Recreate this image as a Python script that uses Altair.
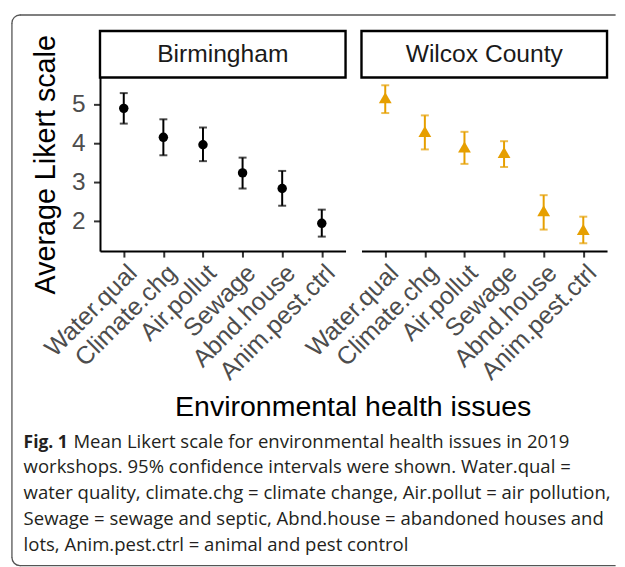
import altair as alt
import pandas as pd
import math

cats = ["Water.qual", "Climate.chg", "Air.pollut", "Sewage", "Abnd.house", "Anim.pest.ctrl"]
bham_mean = [4.89, 4.15, 3.96, 3.24, 2.84, 1.95]
bham_lo = [4.50, 3.69, 3.54, 2.84, 2.40, 1.61]
bham_hi = [5.28, 4.61, 4.40, 3.63, 3.29, 2.30]
wil_mean = [5.16, 4.30, 3.90, 3.76, 2.27, 1.79]
wil_lo = [4.77, 3.84, 3.47, 3.39, 1.79, 1.44]
wil_hi = [5.48, 4.71, 4.29, 4.05, 2.67, 2.12]
panels = ["Birmingham", "Wilcox County"]
y_ticks = [2, 3, 4, 5]
x_title = "Environmental health issues"
y_title = "Average Likert scale"
cap_bold = "Fig. 1"
cap_first = "Mean Likert scale for environmental health issues in 2019"
cap_rest = [
    "workshops. 95% confidence intervals were shown. Water.qual =",
    "water quality, climate.chg = climate change, Air.pollut = air pollution,",
    "Sewage = sewage and septic, Abnd.house = abandoned houses and",
    "lots, Anim.pest.ctrl = animal and pest control",
]

W = 246.5
H = 174.3
OX, OY = 98.4, 74.0  # page position of panel 1 origin
FONT = "Liberation Sans"
CAPFONT = "Open Sans"

xscale = alt.Scale(type="point", padding=0.6, domain=cats)
yscale = alt.Scale(domain=[1.24, 5.68], nice=False, zero=False)

x_axis = alt.Axis(title=None, labelAngle=-45, labelAlign="right", labelBaseline="top",
                  labelFontSize=25, labelColor="#4D4D4D", labelFont=FONT, labelPadding=3,
                  tickSize=6, tickWidth=2, tickColor="#333333",
                  domainColor="black", domainWidth=2, grid=False, labelOverlap=False)

one = pd.DataFrame({"k": [0]})


def panel(name, mean, lo, hi, color, shape, size, first):
    df = pd.DataFrame({"issue": cats, "mean": mean, "lo": lo, "hi": hi})
    if first:
        y_axis = alt.Axis(title=y_title, titleFontSize=28.8, titleFont=FONT, titleColor="black",
                          titleFontWeight="normal", titleX=-45.4, titleY=H / 2,
                          titleAngle=270, titleAlign="center", titleBaseline="alphabetic",
                          values=y_ticks, labelFontSize=24.5, labelColor="#4D4D4D", labelFont=FONT,
                          labelPadding=8.5, tickSize=6.5, tickWidth=2, tickColor="#333333",
                          domainColor="black", domainWidth=2, grid=False)
    else:
        y_axis = None
    base = alt.Chart(df)
    x = alt.X("issue:N", scale=xscale, axis=x_axis, sort=cats)
    bars = base.mark_rule(color=color, strokeWidth=2).encode(
        x=x, y=alt.Y("lo:Q", scale=yscale, axis=y_axis), y2="hi:Q")
    caps_lo = base.mark_tick(color=color, size=8, thickness=2).encode(
        x=x, y=alt.Y("lo:Q", scale=yscale))
    caps_hi = base.mark_tick(color=color, size=8, thickness=2).encode(
        x=x, y=alt.Y("hi:Q", scale=yscale))
    pts = base.mark_point(color=color, filled=True, opacity=1, shape=shape, size=size).encode(
        x=x, y=alt.Y("mean:Q", scale=yscale))
    strip_rect = alt.Chart(one).mark_rect(fill="white", stroke="black", strokeWidth=2.4).encode(
        x=alt.value(0), x2=alt.value(W), y=alt.value(-46.7), y2=alt.value(0))
    strip_text = alt.Chart(one).mark_text(font=FONT, fontSize=24.7, color="#1A1A1A",
                                          baseline="middle", align="center").encode(
        x=alt.value(W / 2), y=alt.value(-22.8), text=alt.value(name))
    layers = [bars, caps_lo, caps_hi, pts, strip_rect, strip_text]
    if first:
        def px(v):
            return v - OX

        def py(v):
            return v - OY
        xt = alt.Chart(one).mark_text(font=FONT, fontSize=28.6, color="black",
                                      baseline="middle", align="center").encode(
            x=alt.value(px(352.6)), y=alt.value(py(405)), text=alt.value(x_title))
        cb = alt.Chart(one).mark_text(font=CAPFONT, fontSize=17.5, fontWeight="bold", color="#231F20",
                                      baseline="alphabetic", align="left").encode(
            x=alt.value(px(21.7)), y=alt.value(py(445.5)), text=alt.value(cap_bold))
        c1 = alt.Chart(one).mark_text(font=CAPFONT, fontSize=18.6, color="#231F20",
                                      baseline="alphabetic", align="left").encode(
            x=alt.value(px(71.7)), y=alt.value(py(445.5)), text=alt.value(cap_first))
        c2 = alt.Chart(one).mark_text(font=CAPFONT, fontSize=18.6, color="#231F20",
                                      baseline="alphabetic", align="left", lineBreak="\n",
                                      lineHeight=26.1).encode(
            x=alt.value(px(21.7)), y=alt.value(py(471.5)), text=alt.value("\n".join(cap_rest)))
        bc = "#555555"
        bw = 1.3
        left, top, bottom, right, r = 10.0, 11.3, 564.0, 616.0, 8.0
        top_rule = alt.Chart(one).mark_rule(color=bc, strokeWidth=bw).encode(
            x=alt.value(px(left + r)), x2=alt.value(px(right)), y=alt.value(py(top)))
        bot_rule = alt.Chart(one).mark_rule(color=bc, strokeWidth=bw).encode(
            x=alt.value(px(left + r)), x2=alt.value(px(right)), y=alt.value(py(bottom)))
        left_rule = alt.Chart(one).mark_rule(color=bc, strokeWidth=bw).encode(
            x=alt.value(px(left)), y=alt.value(py(top + r)), y2=alt.value(py(bottom - r)))
        arc_tl = alt.Chart(one).mark_arc(stroke=bc, strokeWidth=bw, fillOpacity=0).encode(
            x=alt.value(px(left + r)), y=alt.value(py(top + r)),
            theta=alt.value(1.5 * math.pi), theta2=alt.value(2 * math.pi),
            radius=alt.value(r), radius2=alt.value(r - 0.01))
        arc_bl = alt.Chart(one).mark_arc(stroke=bc, strokeWidth=bw, fillOpacity=0).encode(
            x=alt.value(px(left + r)), y=alt.value(py(bottom - r)),
            theta=alt.value(math.pi), theta2=alt.value(1.5 * math.pi),
            radius=alt.value(r), radius2=alt.value(r - 0.01))
        layers += [xt, cb, c1, c2, top_rule, bot_rule, left_rule, arc_tl, arc_bl]
    return alt.layer(*layers).properties(width=W, height=H)


p1 = panel(panels[0], bham_mean, bham_lo, bham_hi, "black", "circle", 90, True)
p2 = panel(panels[1], wil_mean, wil_lo, wil_hi, "#E69F00", "triangle-up", 165, False)

chart = alt.hconcat(p1, p2, spacing=15.5, bounds="flush").properties(
    padding={"left": 1.35, "top": 2.65, "right": 0, "bottom": 0},
    background="white",
).configure_view(stroke=None).configure_axis(grid=False)

chart.save("out.html", embed_options={"renderer": "svg", "actions": False})
